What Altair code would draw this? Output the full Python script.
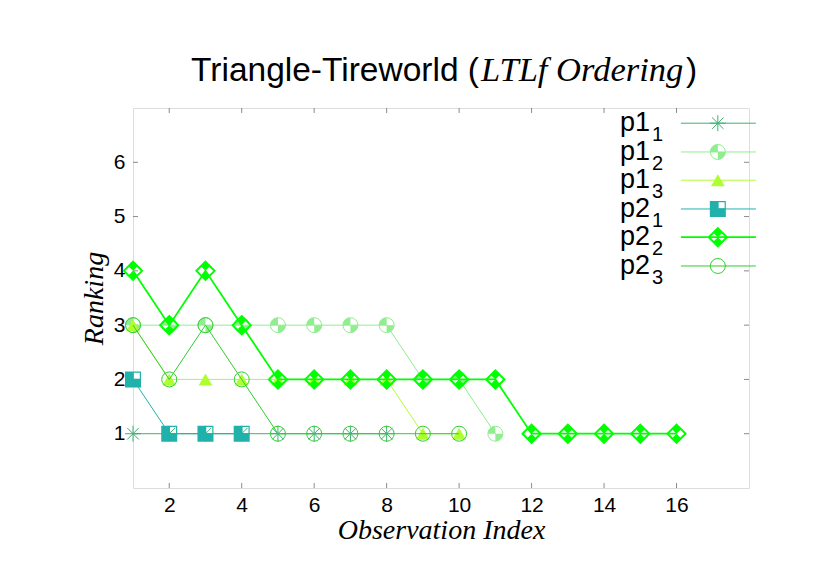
import altair as alt
import pandas as pd

# ---------------- data ----------------
obs_index = list(range(1, 17))
series_names = ["p1_1", "p1_2", "p1_3", "p2_1", "p2_2", "p2_3"]
main_labels = ["p1", "p1", "p1", "p2", "p2", "p2"]
sub_labels = ["1", "2", "3", "1", "2", "3"]

p1_1 = [1, 1, 1, 1, 1, 1, 1, 1]
p1_2 = [3, 3, 3, 3, 3, 3, 3, 3, 2, 2, 1]
p1_3 = [3, 2, 2, 2, 2, 2, 2, 2, 1, 1]
p2_1 = [2, 1, 1, 1]
p2_2 = [4, 3, 4, 3, 2, 2, 2, 2, 2, 2, 2, 1, 1, 1, 1, 1]
p2_3 = [3, 2, 3, 2, 1, 1, 1, 1, 1, 1]
values = [p1_1, p1_2, p1_3, p2_1, p2_2, p2_3]

colors = ["#3cb371", "#90ee90", "#adff2f", "#20b2aa", "#00ff00", "#32cd32"]
line_widths = [1, 1, 1, 1, 1.8, 1]

x_ticks = [2, 4, 6, 8, 10, 12, 14, 16]
y_ticks = [1, 2, 3, 4, 5, 6]
x_domain = [1, 18]
y_domain = [0, 7]

# legend layout (data units)
legend_rows_y = [6.72, 6.19, 5.67, 5.14, 4.62, 4.09]
legend_label_x = 15.27
legend_line_x = [16.12, 18.19]
legend_symbol_x = 17.14

# ---------------- symbol shapes ----------------
ASTERISK = "M-1,0L1,0M0,-1L0,1M-0.72,-0.72L0.72,0.72M-0.72,0.72L0.72,-0.72"
QUARTERS = "M0,0L0,-1A1,1,0,0,0,-1,0ZM0,0L0,1A1,1,0,0,0,1,0Z"
SQUARE_HOLE = "M-1,-1L1,-1L1,1L-1,1ZM0.1,-0.85L0.1,-0.1L0.85,-0.1L0.85,-0.85Z"
DIAMOND_FILL = "M0,-1L0.5,-0.5L0,0L-0.5,-0.5ZM0,1L0.5,0.5L0,0L-0.5,0.5Z"
DIAMOND_OUT = "M0,-1L1,0L0,1L-1,0Z"

symbols = [
    [("stroke", ASTERISK, 256, 1)],
    [("fill", QUARTERS, 225, 0), ("stroke", "circle", 225, 1)],
    [("fill", "triangle-up", 190, 0)],
    [("fill", SQUARE_HOLE, 256, 0)],
    [("fill", DIAMOND_FILL, 330, 0), ("stroke", DIAMOND_OUT, 330, 2)],
    [("stroke", "circle", 225, 1)],
]

SANS = "Liberation Sans"
SERIF = "Liberation Serif"

X = alt.X(
    "x:Q",
    scale=alt.Scale(domain=x_domain, nice=False, zero=False),
    axis=alt.Axis(
        values=x_ticks, ticks=False, tickSize=0, domain=False, grid=False,
        labelFont=SANS, labelFontSize=21, labelColor="black", labelPadding=6,
        title="Observation Index", titleFont=SERIF, titleFontStyle="italic",
        titleFontWeight="normal", titleFontSize=28, titleColor="black", titlePadding=1,
    ),
)
Y = alt.Y(
    "y:Q",
    scale=alt.Scale(domain=y_domain, nice=False, zero=False),
    axis=alt.Axis(
        values=y_ticks, ticks=False, tickSize=0, domain=False, grid=False,
        labelFont=SANS, labelFontSize=21, labelColor="black", labelPadding=8,
        title="Ranking", titleFont=SERIF, titleFontStyle="italic",
        titleFontWeight="normal", titleFontSize=28, titleColor="black", titlePadding=5,
    ),
)

layers = []

# inward ticks (gnuplot style, mirrored)
px_x = (x_domain[1] - x_domain[0]) / 616.0
px_y = (y_domain[1] - y_domain[0]) / 380.0
tick_len = 5
tick_rows = []
for v in y_ticks:
    tick_rows.append({"x": x_domain[0], "x2": x_domain[0] + tick_len * px_x, "y": v, "y2": v})
    tick_rows.append({"x": x_domain[1], "x2": x_domain[1] - tick_len * px_x, "y": v, "y2": v})
for v in x_ticks:
    tick_rows.append({"x": v, "x2": v, "y": y_domain[0], "y2": y_domain[0] + tick_len * px_y})
    tick_rows.append({"x": v, "x2": v, "y": y_domain[1], "y2": y_domain[1] - tick_len * px_y})
ticks_df = pd.DataFrame(tick_rows)
layers.append(
    alt.Chart(ticks_df).mark_rule(color="#8a8a8a", strokeWidth=1).encode(
        x=X, x2="x2:Q", y=Y, y2="y2:Q"
    )
)


def symbol_layers(df, spec, color):
    out = []
    for kind, shape, size, sw in spec:
        if kind == "fill":
            m = alt.Chart(df).mark_point(
                shape=shape, size=size, filled=True, fill=color, strokeWidth=0, opacity=1
            )
        else:
            m = alt.Chart(df).mark_point(
                shape=shape, size=size, filled=False, stroke=color, strokeWidth=sw, opacity=1
            )
        out.append(m.encode(x=X, y=Y))
    return out


# data series
for name, vals, col, lw, spec in zip(series_names, values, colors, line_widths, symbols):
    df = pd.DataFrame({"x": obs_index[: len(vals)], "y": vals})
    layers.append(alt.Chart(df).mark_line(color=col, strokeWidth=lw).encode(x=X, y=Y))
    layers.extend(symbol_layers(df, spec, col))

# legend
for name, ly, col, lw, spec, ml, sl in zip(
    series_names, legend_rows_y, colors, line_widths, symbols, main_labels, sub_labels
):
    ldf = pd.DataFrame({"x": [legend_line_x[0]], "x2": [legend_line_x[1]], "y": [ly]})
    layers.append(alt.Chart(ldf).mark_rule(color=col, strokeWidth=lw).encode(x=X, x2="x2:Q", y=Y))
    sdf = pd.DataFrame({"x": [legend_symbol_x], "y": [ly]})
    layers.extend(symbol_layers(sdf, spec, col))
    tdf = pd.DataFrame({"x": [legend_label_x], "y": [ly], "t": [ml], "s": [sl]})
    layers.append(
        alt.Chart(tdf).mark_text(
            font=SANS, fontSize=27, align="right", baseline="alphabetic", dy=8, color="black"
        ).encode(x=X, y=Y, text="t:N")
    )
    layers.append(
        alt.Chart(tdf).mark_text(
            font=SANS, fontSize=20, align="left", baseline="alphabetic", dx=2, dy=18, color="black"
        ).encode(x=X, y=Y, text="s:N")
    )

# title as text pieces
title_df = pd.DataFrame({"a": ["Triangle-Tireworld ("], "b": ["LTLf Ordering"], "c": [")"]})
layers.append(
    alt.Chart(title_df).mark_text(
        font=SANS, fontSize=33.5, align="right", baseline="alphabetic", color="black"
    ).encode(x=alt.value(346), y=alt.value(-27), text="a:N")
)
layers.append(
    alt.Chart(title_df).mark_text(
        font=SERIF, fontSize=34.5, fontStyle="italic", align="left", baseline="alphabetic", color="black"
    ).encode(x=alt.value(348), y=alt.value(-27), text="b:N")
)
layers.append(
    alt.Chart(title_df).mark_text(
        font=SANS, fontSize=33.5, align="left", baseline="alphabetic", color="black"
    ).encode(x=alt.value(553), y=alt.value(-27), text="c:N")
)

chart = (
    alt.layer(*layers)
    .properties(
        width=616,
        height=380,
        autosize=alt.AutoSizeParams(type="none"),
        padding={"left": 125, "top": 100, "right": 60, "bottom": 80},
    )
    .configure_view(stroke="black", strokeWidth=1)
    .configure(background="white")
)

chart.save("out.html", embed_options={"renderer": "svg", "actions": False})
